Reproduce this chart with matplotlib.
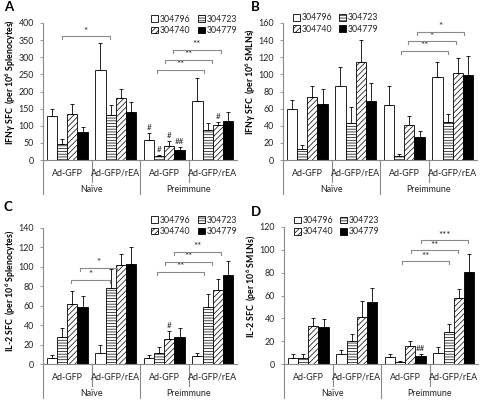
import matplotlib
matplotlib.use("Agg")
import matplotlib.pyplot as plt
from matplotlib.patches import Patch
from matplotlib import transforms
import numpy as np

plt.rcParams['font.family'] = ['Lato', 'DejaVu Sans']
plt.rcParams['hatch.linewidth'] = 0.5
plt.rcParams['mathtext.default'] = 'regular'

groups = ['Ad-GFP', 'Ad-GFP/rEA', 'Ad-GFP', 'Ad-GFP/rEA']
cohorts = ['Naïve', 'Preimmune']
strains = ['304796', '304723', '304740', '304779']

# A: IFNg, spleen
ifn_spl = [[128, 262, 58, 172],
           [47, 130, 12, 87],
           [134, 182, 41, 103],
           [83, 140, 28, 115]]
ifn_spl_err = [[20, 81, 22, 66],
               [13, 32, 4, 20],
               [29, 25, 14, 9],
               [12, 28, 11, 24]]
# B: IFNg, SMLN
ifn_mln = [[60, 87, 64, 97],
           [13, 43, 5, 44],
           [74, 115, 41, 102],
           [65, 69, 27, 99]]
ifn_mln_err = [[10, 22, 22, 18],
               [4, 19, 2, 10],
               [13, 25, 10, 17],
               [18, 21, 7, 23]]
# C: IL-2, spleen
il2_spl = [[6, 11, 6, 8],
           [28, 78, 11, 59],
           [62, 102, 26, 76],
           [59, 103, 28, 92]]
il2_spl_err = [[3, 9, 3, 3],
               [9, 20, 6, 13],
               [13, 11, 8, 11],
               [11, 17, 9, 14]]
# D: IL-2, SMLN
il2_mln = [[5, 9, 6, 10],
           [5, 20, 2, 28],
           [33, 41, 16, 58],
           [32, 54, 7, 81]]
il2_mln_err = [[4, 3, 3, 5],
               [4, 6, 0.6, 7],
               [7, 14, 4, 8],
               [7, 13, 2, 15]]

LINE = '#8a8a8a'
TXT = '#222222'
fills = ['white', 'white', 'white', 'black']
hatches = [None, '------', '//////', None]
BW = 0.21
FS = 6.4


def draw_panel(rect, means, errs, ymax, ystep, ylabel, ylab_y, letter, letter_xy,
               brackets, marks, leg_loc, leg_anchor):
    ax = fig.add_axes(rect)
    hpx = rect[3] * 400
    x = np.arange(4) + 0.5
    for i in range(4):
        xs = x + (i - 1.5) * BW
        ax.bar(xs, means[i], BW, color=fills[i], edgecolor='black',
               hatch=hatches[i], linewidth=0.6, zorder=2)
        ax.errorbar(xs, means[i], yerr=[np.zeros(4), errs[i]], fmt='none',
                    ecolor='black', elinewidth=0.6, capsize=1.6, capthick=0.6, zorder=3)
    for (g, i, s) in marks:
        xm = g + 0.5 + (i - 1.5) * BW
        ax.annotate(s, (xm, means[i][g] + errs[i][g]), xytext=(0, 1.2),
                    textcoords='offset points', ha='center', va='bottom',
                    fontsize=5.8, color=TXT)
    d = ymax * 3.0 / hpx
    for (x0, x1, y, s) in brackets:
        ax.plot([x0, x0, x1, x1], [y - d, y, y, y - d], color=LINE, lw=0.8,
                clip_on=False, zorder=4)
        ax.text((x0 + x1) / 2, y + d * 0.2, s, ha='center', va='bottom',
                fontsize=7, color=TXT)
    ax.set_xlim(0, 4)
    ax.set_ylim(0, ymax)
    ax.set_yticks(np.arange(0, ymax + 1, ystep))
    ax.tick_params(axis='y', labelsize=FS, length=2.5, width=0.6, color=LINE,
                   labelcolor=TXT, pad=4)
    ax.set_xticks([])
    for sp in ['top', 'right']:
        ax.spines[sp].set_visible(False)
    for sp in ['left', 'bottom']:
        ax.spines[sp].set_color(LINE)
        ax.spines[sp].set_linewidth(0.8)
    # category axis below
    tr = transforms.blended_transform_factory(ax.transData, ax.transAxes)
    short, long_ = -22 / hpx, -34 / hpx
    for xv, yb in [(0, long_), (1, short), (2, long_), (3, short)]:
        ax.plot([xv, xv], [0, yb], color=LINE, lw=0.8, transform=tr, clip_on=False)
    for k, g in enumerate(groups):
        ax.text(k + 0.5, -13 / hpx, g, transform=tr, ha='center', va='center',
                fontsize=FS, color=TXT)
    for k, c in enumerate(cohorts):
        ax.text(2 * k + 1, -30 / hpx, c, transform=tr, ha='center', va='center',
                fontsize=FS, color=TXT)
    ax.set_ylabel(ylabel, fontsize=6.3, fontweight='bold', color='black')
    ax.yaxis.set_label_coords(-25 / 194, ylab_y)
    handles = [Patch(facecolor=fills[i], edgecolor='black', hatch=hatches[i],
                     linewidth=0.6, label=strains[i]) for i in [0, 2, 1, 3]]
    ax.legend(handles=handles, loc=leg_loc, bbox_to_anchor=leg_anchor, ncol=2,
              frameon=False, fontsize=6.3, handlelength=0.8, handleheight=0.8,
              handletextpad=0.2, columnspacing=0.8, labelspacing=0.25,
              borderpad=0, borderaxespad=0, labelcolor=TXT)
    fig.text(letter_xy[0] / 480, 1 - letter_xy[1] / 400, letter, fontsize=9.5,
             fontweight='bold', ha='left', va='top')
    return ax


fig = plt.figure(figsize=(4.8, 4.0), dpi=100)

draw_panel([43 / 480, 0.6, 194 / 480, 137 / 400], ifn_spl, ifn_spl_err, 400, 50,
           'IFNγ SFC  (per 10$^{6}$ Splenocytes)', 0.57, 'A', (4, 1),
           [(0.39, 1.38, 361, '*'), (2.36, 3.32, 263, '**'),
            (2.51, 3.49, 293, '**'), (2.69, 3.66, 322, '**')],
           [(2, 0, '#'), (2, 1, '#'), (2, 2, '#'), (2, 3, '##'), (3, 2, '#')],
           'upper right', (1.0, 1.06))

draw_panel([283 / 480, 0.6, 194 / 480, 137 / 400], ifn_mln, ifn_mln_err, 160, 20,
           'IFNγ SFC  (per 10$^{6}$ SMLNs)', 0.57, 'B', (251, 1),
           [(2.43, 3.40, 127.6, '**'), (2.58, 3.56, 138.5, '*'),
            (2.76, 3.73, 150, '*')],
           [],
           'upper left', (0.05, 1.07))

draw_panel([43 / 480, 0.09, 194 / 480, 136 / 400], il2_spl, il2_spl_err, 140, 20,
           'IL-2 SFC  (per 10$^{6}$ Splenocytes)', 0.54, 'C', (4, 201),
           [(0.58, 1.38, 86.8, '*'), (0.76, 1.53, 98.8, '*'),
            (2.36, 3.32, 94.7, '**'), (2.51, 3.49, 105, '**'),
            (2.70, 3.66, 115.3, '**')],
           [(2, 2, '#')],
           'upper right', (1.0, 1.09))

draw_panel([284 / 480, 0.09, 194 / 480, 137 / 400], il2_mln, il2_mln_err, 120, 20,
           'IL-2 SFC  (per 10$^{6}$ SMLNs)', 0.57, 'D', (251, 206),
           [(2.43, 3.40, 89.9, '**'), (2.61, 3.59, 99.5, '**'),
            (2.82, 3.79, 108.3, '***')],
           [(2, 3, '##')],
           'upper left', (0.05, 1.08))

fig.savefig('out.png', dpi=100)
